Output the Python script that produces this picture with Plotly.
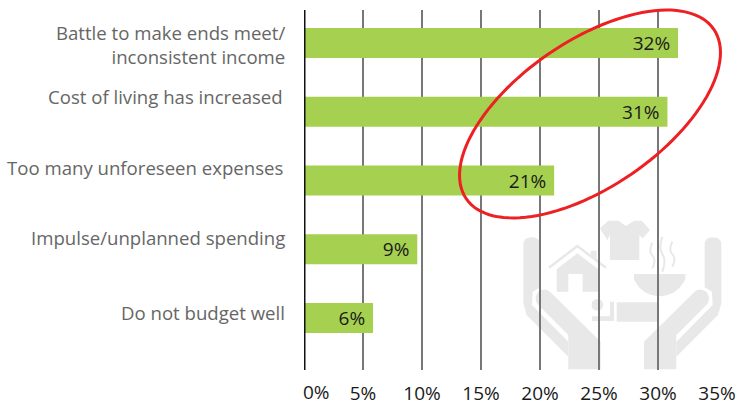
import math
import plotly.graph_objects as go

categories = ["Do not budget well", "Impulse/unplanned spending", "Too many unforeseen expenses",
              "Cost of living has increased", "Battle to make ends meet/<br>inconsistent income"]
values = [5.85, 9.6, 21.2, 30.8, 31.7]
value_labels = ["6%", "9%", "21%", "31%", "32%"]
tick_values = [0, 5, 10, 15, 20, 25, 30, 35]
tick_labels = ["0%", "5%", "10%", "15%", "20%", "25%", "30%", "35%"]

W, H = 740, 405
L, R, T, B = 304, 717, 10, 370
FONT = "Open Sans, sans-serif"
label_shift = [6, 12, 13, 15, -1]     # upward offset of each category label, px
label_right = [287, 287, 285, 285, 287]


def fx(x):
    return (x - L) / (R - L)


def fy(y):
    return (B - y) / (B - T)


def z(x, y, mirror=False):
    # position measured on the watermark, in a 3x frame anchored at (500, 200)
    if mirror:
        x = 734 - x
    return f"{fx(500 + x / 3):.4f},{fy(200 + y / 3):.4f}"


def poly(pts, mirror=False):
    return "M" + " L".join(z(a, b, mirror) for a, b in pts) + " Z"


GREY = "#e8e8e8"
shapes = []


def add(path, fill=GREY, line=None, width=0):
    shapes.append(dict(type="path", xref="paper", yref="paper", path=path, layer="below",
                       fillcolor=fill, line=dict(color=line or "rgba(0,0,0,0)", width=width)))


for m in (False, True):
    arm = f"M{z(70,135,m)} Q{z(70,112,m)} {z(95,112,m)} Q{z(120,112,m)} {z(120,135,m)} L{z(120,262,m)} L{z(98,275,m)} L{z(96,315,m)} L{z(205,425,m)} L{z(205,508,m)} L{z(205,470,m)} L{z(80,345,m)} L{z(70,310,m)} Z"
    add(arm)
    finger = f"M{z(115,275,m)} Q{z(135,262,m)} {z(150,275,m)} L{z(302,425,m)} L{z(302,508,m)} L{z(205,508,m)} L{z(205,405,m)} L{z(112,312,m)} Q{z(100,295,m)} {z(115,275,m)} Z"
    add(finger)

# house
add("M" + z(147, 203) + " L" + z(232, 138) + " L" + z(318, 203), fill="rgba(0,0,0,0)", line=GREY, width=2.5)
add(poly([(272, 152), (290, 152), (290, 178), (272, 165)]))
add(poly([(170, 208), (232, 160), (295, 208), (295, 275), (248, 275), (248, 222), (205, 222), (205, 275), (170, 275)]))
# shirt
add(poly([(300, 85), (325, 62), (355, 62), (378, 78), (402, 62), (425, 62), (450, 90), (428, 115), (418, 105),
          (418, 180), (330, 180), (330, 105), (322, 120)]))
# bowl
add(f"M{z(402,222)} L{z(556,222)} L{z(556,238)} Q{z(530,288)} {z(480,288)} Q{z(425,288)} {z(402,238)} Z")
# steam
for dx, top, bot in ((0, 128, 205), (30, 110, 215), (60, 125, 200)):
    add(f"M{z(457+dx,top)} Q{z(445+dx,(top*2+bot)/3)} {z(457+dx,(top+bot)/2)} Q{z(470+dx,(top+2*bot)/3)} {z(457+dx,bot)}",
        fill="rgba(0,0,0,0)", line=GREY, width=2)
# tray and small figure
add(poly([(350, 307), (472, 307), (472, 365), (350, 365)]))
add(poly([(330, 305), (342, 305), (342, 363), (276, 363), (276, 349), (330, 349)]))
add(f"M{z(275,315)} Q{z(275,298)} {z(292,298)} Q{z(309,298)} {z(309,315)} Q{z(309,332)} {z(292,332)} Q{z(275,332)} {z(275,315)} Z")

# red hand-drawn ring
cx, cy, a, b, rot = 590, 114, 150, 73, math.radians(-34.4)
ring = []
for i in range(121):
    t = 2 * math.pi * i / 120
    ex, ey = a * math.cos(t), b * math.sin(t)
    ring.append((cx + ex * math.cos(rot) - ey * math.sin(rot), cy + ex * math.sin(rot) + ey * math.cos(rot)))
ring_path = "M" + " L".join(f"{fx(p):.4f},{fy(q):.4f}" for p, q in ring) + " Z"

fig = go.Figure(go.Bar(
    y=categories, x=values, orientation="h", width=0.436,
    marker=dict(color="#a6d04f", line=dict(width=0)),
    text=[s + "\u00a0" for s in value_labels], textposition="inside", insidetextanchor="end",
    textangle=0, cliponaxis=False, constraintext="none",
    textfont=dict(family=FONT, size=19, color="#1a1a1a"),
))

annotations = [dict(xref="paper", yref="y", x=fx(r), y=c, yshift=s, text=c, xanchor="right", yanchor="middle",
                    align="right", showarrow=False, font=dict(family=FONT, size=18.6, color="#666666"))
               for c, s, r in zip(categories, label_shift, label_right)]
annotations.append(dict(xref="paper", yref="paper", x=fx(316), y=fy(392), text=tick_labels[0], xanchor="center",
                        yanchor="middle", showarrow=False, font=dict(family=FONT, size=19, color="#1a1a1a")))

fig.update_layout(
    template="none",
    width=W, height=H, autosize=False, showlegend=False,
    paper_bgcolor="white", plot_bgcolor="rgba(0,0,0,0)",
    margin=dict(l=L, r=W - R, t=T, b=H - B, pad=0, autoexpand=False),
    xaxis=dict(range=[0, 35], tickmode="array", tickvals=tick_values, ticktext=[""] + tick_labels[1:],
               automargin=False,
               showgrid=True, gridcolor="#777777", gridwidth=1.5, zeroline=False, showline=False,
               ticks="outside", ticklen=6, tickcolor="rgba(0,0,0,0)",
               tickfont=dict(family=FONT, size=19, color="#1a1a1a")),
    yaxis=dict(type="category", categoryorder="array", categoryarray=categories, automargin=False,
               range=[-0.756, 4.48], showticklabels=False, ticks="", showgrid=False, zeroline=False,
               showline=False),
    shapes=shapes + [
        dict(type="line", xref="x", yref="paper", x0=0, x1=0, y0=0, y1=1, layer="above",
             line=dict(color="#111111", width=3)),
        dict(type="path", xref="paper", yref="paper", path=ring_path, layer="above",
             line=dict(color="#ed2024", width=3), fillcolor="rgba(0,0,0,0)"),
    ],
    annotations=annotations,
)
fig.write_html("out.html", config={"displayModeBar": False},
               post_script="document.body.style.margin='0';")
